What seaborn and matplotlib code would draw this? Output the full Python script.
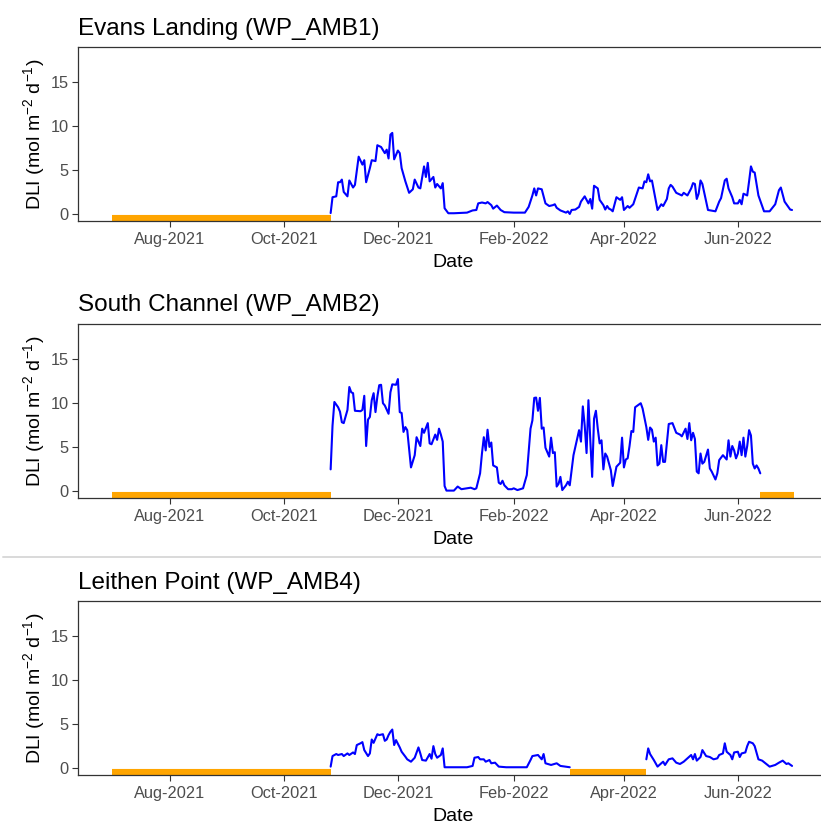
import pandas as pd
import matplotlib.pyplot as plt
import matplotlib.dates as mdates
from matplotlib.lines import Line2D
import numpy as np
import seaborn as sns

# ============================================================
# DATA
# days since the logger deployment date, DLI in mol m-2 d-1
# ============================================================

site_names = ["Evans Landing (WP_AMB1)", "South Channel (WP_AMB2)", "Leithen Point (WP_AMB4)"]
deploy_date = "2021-10-26"

evans_days = [0, 1, 3, 4, 5, 6, 7, 9, 10, 12,
              13, 15, 17, 18, 19, 21, 22, 24, 25, 27,
              29, 30, 31, 32, 33, 34, 36, 37, 38, 40,
              42, 44, 45, 47, 48, 50, 51, 52, 53, 55,
              56, 57, 59, 60, 61, 63, 66, 73, 76, 78,
              79, 81, 83, 84, 86, 87, 89, 91, 93, 98,
              104, 106, 108, 109, 110, 111, 113, 114, 115, 117,
              119, 120, 121, 123, 126, 127, 128, 129, 131, 133,
              134, 136, 138, 139, 140, 141, 143, 144, 146, 147,
              148, 149, 150, 151, 153, 155, 156, 157, 159, 160,
              162, 165, 167, 168, 169, 170, 171, 172, 175, 177,
              178, 180, 181, 182, 183, 185, 188, 189, 191, 193,
              194, 195, 196, 197, 198, 199, 200, 202, 206, 208,
              209, 211, 212, 213, 215, 216, 218, 219, 220, 221,
              223, 224, 225, 226, 227, 229, 232, 235, 238, 240,
              241, 243, 244, 246, 247]
evans_dli = [0.1, 1.9, 2.0, 3.6, 3.6, 3.9, 2.5, 2.0, 3.8, 3.0,
             3.3, 6.5, 5.6, 6.1, 3.6, 5.2, 6.1, 6.0, 7.8, 7.6,
             6.9, 7.3, 6.3, 9.0, 9.2, 6.2, 7.2, 6.9, 5.2, 3.7,
             2.4, 2.8, 3.9, 3.0, 2.9, 5.4, 4.2, 5.8, 3.7, 4.2,
             3.0, 3.4, 2.9, 3.5, 0.65, 0.08, 0.08, 0.15, 0.4, 0.45,
             1.2, 1.3, 1.2, 1.35, 1.0, 0.6, 0.95, 0.45, 0.2, 0.15,
             0.15, 0.8, 2.1, 2.9, 2.1, 2.9, 2.8, 2.0, 1.2, 0.9,
             1.0, 1.1, 0.7, 0.4, 0.15, 0.3, 0.0, 0.45, 0.5, 0.8,
             1.4, 2.0, 1.2, 1.7, 0.6, 3.2, 2.9, 1.6, 1.0, 0.5,
             0.9, 0.6, 0.5, 0.3, 1.9, 1.6, 1.9, 0.45, 0.9, 0.7,
             1.1, 3.0, 2.9, 3.7, 3.6, 4.5, 3.7, 3.8, 0.45, 1.1,
             0.9, 1.7, 2.9, 3.3, 3.1, 2.4, 2.1, 2.4, 2.1, 2.9,
             3.5, 3.4, 1.7, 2.3, 3.8, 3.4, 2.4, 0.45, 0.3, 1.4,
             1.8, 3.8, 4.0, 2.9, 1.9, 1.2, 1.2, 1.6, 1.1, 2.3,
             2.1, 3.7, 5.4, 4.8, 4.7, 2.1, 0.3, 0.3, 1.1, 2.7,
             3.0, 1.4, 1.1, 0.5, 0.45]

south_days = [0, 1, 2, 4, 5, 6, 7, 9, 10, 11,
              12, 13, 16, 17, 18, 19, 20, 21, 22, 23,
              24, 25, 26, 27, 28, 29, 31, 32, 33, 35,
              36, 37, 38, 39, 40, 41, 43, 45, 46, 48,
              49, 50, 52, 53, 54, 56, 57, 58, 59, 60,
              61, 62, 66, 68, 70, 73, 75, 77, 78, 80,
              81, 82, 83, 84, 85, 86, 87, 89, 90, 91,
              92, 93, 95, 97, 98, 100, 103, 105, 107, 108,
              109, 110, 111, 112, 113, 114, 115, 117, 118, 119,
              120, 121, 122, 123, 124, 126, 127, 128, 130, 133,
              134, 135, 136, 137, 138, 139, 140, 141, 142, 143,
              144, 145, 146, 147, 148, 150, 151, 153, 155, 156,
              157, 158, 159, 160, 161, 162, 163, 165, 166, 167,
              169, 170, 171, 172, 173, 174, 175, 176, 177, 178,
              179, 181, 183, 185, 187, 188, 190, 191, 192, 193,
              194, 195, 196, 197, 198, 199, 200, 202, 203, 204,
              206, 207, 208, 210, 212, 213, 214, 215, 216, 217,
              218, 219, 220, 221, 222, 223, 224, 225, 226, 227,
              228, 229, 230]
south_dli = [2.45, 7.4, 10.1, 9.5, 9.0, 7.8, 7.7, 9.2, 11.8, 11.2,
             11.1, 9.1, 9.05, 9.2, 10.8, 5.1, 8.1, 8.4, 10.3, 11.1,
             8.95, 10.7, 12.0, 12.05, 9.96, 9.7, 8.76, 11.2, 12.1, 12.05,
             12.7, 8.95, 8.85, 6.7, 7.25, 6.9, 2.67, 4.06, 6.1, 5.1,
             7.07, 6.6, 7.7, 5.4, 5.3, 6.4, 5.8, 7.07, 6.4, 5.6,
             0.56, 0.04, 0.04, 0.5, 0.2, 0.3, 0.37, 0.2, 0.3, 2.0,
             4.25, 6.1, 4.6, 6.95, 5.0, 5.5, 2.9, 2.67, 0.94, 0.79,
             1.16, 0.64, 0.2, 0.2, 0.3, 0.1, 0.3, 1.8, 7.07, 8.0,
             10.56, 10.6, 9.1, 10.56, 7.07, 7.2, 4.9, 3.9, 6.05, 4.3,
             4.4, 0.5, 0.8, 1.6, 0.1, 0.64, 1.05, 0.64, 4.06, 6.9,
             5.6, 9.6, 7.44, 4.3, 10.3, 5.75, 1.6, 8.2, 9.1, 7.07,
             5.4, 5.75, 2.45, 4.25, 3.9, 2.35, 0.56, 2.75, 3.2, 6.05,
             2.67, 3.57, 3.7, 5.1, 6.8, 6.7, 9.5, 9.8, 9.96, 9.35,
             7.25, 5.8, 7.2, 6.95, 5.6, 6.05, 2.9, 3.1, 5.2, 3.3,
             3.3, 7.6, 7.7, 6.6, 6.4, 6.2, 7.07, 5.9, 7.7, 5.75,
             6.6, 5.9, 2.2, 2.0, 4.25, 3.1, 3.3, 4.7, 2.55, 2.2,
             1.3, 2.0, 3.5, 4.06, 3.57, 5.75, 3.9, 5.1, 4.6, 3.7,
             4.25, 5.6, 4.06, 6.05, 3.9, 5.1, 6.9, 6.3, 3.1, 2.55,
             2.9, 2.55, 2.0]

leithen_days = [0, 1, 3, 4, 6, 7, 9, 10, 12, 13,
                14, 16, 17, 18, 20, 21, 22, 23, 25, 26,
                28, 29, 30, 31, 32, 33, 34, 35, 37, 38,
                40, 41, 43, 45, 47, 48, 49, 51, 53, 54,
                55, 56, 57, 59, 60, 61, 62, 73, 76, 77,
                79, 80, 82, 83, 85, 86, 88, 90, 94, 105,
                107, 108, 111, 113, 114, 115, 118, 121, 123, 128,
                169, 170, 171, 173, 175, 177, 178, 179, 181, 183,
                185, 187, 189, 191, 193, 194, 195, 196, 198, 199,
                201, 203, 205, 207, 208, 210, 211, 212, 214, 215,
                216, 218, 219, 220, 222, 223, 224, 226, 227, 229,
                231, 235, 238, 240, 242, 244, 245, 247]
leithen_dli = [0.15, 1.35, 1.58, 1.47, 1.58, 1.35, 1.65, 1.47, 1.76, 1.58,
               2.6, 2.8, 2.93, 2.03, 1.35, 1.65, 3.23, 2.85, 3.83, 3.73,
               3.83, 3.08, 3.23, 3.73, 4.1, 4.36, 2.6, 3.16, 2.33, 1.84,
               1.28, 0.98, 0.71, 1.16, 2.33, 1.65, 0.9, 0.83, 1.58, 1.05,
               2.48, 1.58, 1.16, 1.47, 2.22, 0.08, 0.08, 0.08, 0.23, 1.16,
               1.24, 0.98, 0.98, 0.71, 0.9, 0.53, 0.6, 0.15, 0.08, 0.08,
               0.9, 1.35, 1.47, 0.98, 1.58, 0.53, 0.34, 0.53, 0.23, 0.08,
               0.98, 2.22, 1.58, 0.9, 0.15, 0.53, 0.71, 0.34, 0.98, 1.09,
               0.6, 0.45, 0.71, 1.09, 1.47, 0.98, 1.58, 0.83, 1.24, 2.03,
               1.35, 1.24, 0.98, 1.09, 1.47, 1.65, 2.8, 1.84, 1.47, 0.98,
               1.76, 1.84, 1.24, 1.65, 1.76, 2.48, 2.97, 2.8, 2.48, 0.98,
               0.83, 0.15, 0.34, 0.6, 0.83, 0.45, 0.53, 0.23]

# periods without data (orange bars)
evans_gap_start = ["2021-07-01"]
evans_gap_end = ["2021-10-26"]
south_gap_start = ["2021-07-01", "2022-06-13"]
south_gap_end = ["2021-10-26", "2022-07-01"]
leithen_gap_start = ["2021-07-01", "2022-03-03"]
leithen_gap_end = ["2021-10-26", "2022-04-13"]

# ============================================================
# TABLES
# ============================================================

site_days = [evans_days, south_days, leithen_days]
site_dli = [evans_dli, south_dli, leithen_dli]
site_gaps = [(evans_gap_start, evans_gap_end),
             (south_gap_start, south_gap_end),
             (leithen_gap_start, leithen_gap_end)]

frames = []
for name, d, v in zip(site_names, site_days, site_dli):
    tmp = pd.DataFrame({"day": d, "dli": v})
    tmp["date"] = pd.Timestamp(deploy_date) + pd.to_timedelta(tmp["day"], unit="D")
    # new segment wherever the logger record has a long break
    tmp["seg"] = (tmp["day"].diff() > 30).cumsum()
    tmp["site"] = name
    frames.append(tmp)

# ============================================================
# PLOT
# ============================================================

sns.set_theme(style="white")
plt.rcParams["font.family"] = ["Liberation Sans", "DejaVu Sans"]
plt.rcParams["mathtext.fontset"] = "custom"
plt.rcParams["mathtext.rm"] = "Liberation Sans"
plt.rcParams["mathtext.it"] = "Liberation Sans"

fig = plt.figure(figsize=(8.21, 8.24), dpi=100)

W, H = 821.0, 824.0
panel_tops = [47, 324, 601]
panel_h = 174
left_px, right_px = 78, 828

xmin = pd.Timestamp("2021-06-12 18:00")
xmax = pd.Timestamp("2022-07-19 06:00")

for i, df in enumerate(frames):
    top = panel_tops[i]
    ax = fig.add_axes([left_px / W, 1 - (top + panel_h) / H,
                       (right_px - left_px) / W, panel_h / H])

    sns.lineplot(data=df, x="date", y="dli", units="seg", estimator=None,
                 color="#0000FF", linewidth=1.5, ax=ax)

    gs, ge = site_gaps[i]
    ax.hlines([-0.45] * len(gs), pd.to_datetime(gs), pd.to_datetime(ge),
              color="#FFA500", linewidth=4.4)

    ax.set_xlim(xmin, xmax)
    ax.set_ylim(-0.8, 18.95)
    ax.set_yticks([0, 5, 10, 15])
    ax.xaxis.set_major_locator(mdates.MonthLocator(bymonth=[2, 4, 6, 8, 10, 12]))
    ax.xaxis.set_major_formatter(mdates.DateFormatter("%b-%Y"))

    ax.set_title(site_names[i], loc="left", fontsize=17.5, color="black", pad=9)
    ax.set_xlabel("Date", fontsize=14, color="black", labelpad=5)
    ax.set_ylabel(r"DLI (mol m$^{-2}$ d$^{-1}$)", fontsize=14, color="black", labelpad=3)

    ax.tick_params(axis="both", which="major", length=4, width=0.8,
                   color="#333333", labelcolor="#4D4D4D", labelsize=11.8,
                   pad=2.5, bottom=True, left=True)
    ax.tick_params(axis="x", pad=4)
    for sp in ax.spines.values():
        sp.set_color("#333333")
        sp.set_linewidth(0.9)
    ax.grid(False)

# light separator between the second and third panel
fig.add_artist(Line2D([3 / W, 1.0], [1 - 557 / H, 1 - 557 / H],
                      color="#D9D9D9", linewidth=1.4))

plt.savefig("out.png", dpi=100)
